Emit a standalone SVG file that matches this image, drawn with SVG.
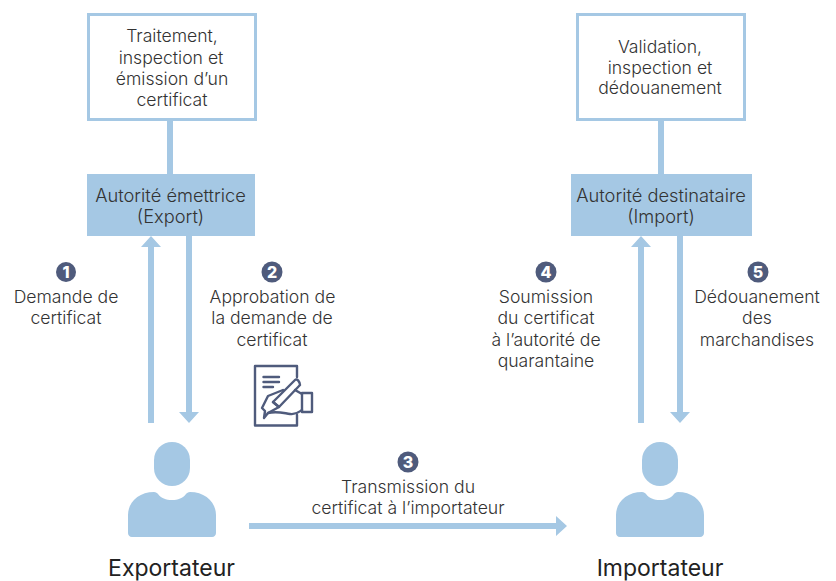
<svg xmlns="http://www.w3.org/2000/svg" width="836" height="581" viewBox="0 0 836 581">
<style>
text{font-family:"Inter","Liberation Sans",sans-serif;font-size:17.600px;font-weight:300;fill:#333;text-anchor:middle}
.box{fill:#fff;stroke:#a5c8e4;stroke-width:3}
.fill{fill:#a5c8e4}
.ln{stroke:#a5c8e4;stroke-width:6;fill:none}
.ah{fill:#a5c8e4}
.badge{fill:#4f5b7c}
.num{font-size:16px;font-weight:800;fill:#fff}
.lab{font-size:18.300px}
.name{font-size:23px;font-weight:400;fill:#222}
.ic{fill:none;stroke:#4f5b7c;stroke-width:2.400;stroke-linejoin:round;stroke-linecap:round}
</style>
<defs>
<g id="person"><path class="fill" d="M-18 -32a18 18 0 0 1 36 0v8a18 18 0 0 1 -36 0z"/><path class="fill" d="M-44 41v-18c0-13 11-23 26-23c2 0 3 1 4 2c3 4 8 6 14 6s11-2 14-6c1-1 2-2 4-2c15 0 26 10 26 23v18c0 2-1.500 4-4 4h-80c-2.500 0-4-2-4-4z"/></g>
</defs>
<g id="connectors">
<path class="ln" d="M170 120V174M661 120V174"/>
<path class="ln" d="M151 423V245M189 236V414M641 423V245M680 236V414M249 526H557"/>
<path class="ah" d="M151 236l10 11h-20zM189 423l-10-11h20zM641 236l10 11h-20zM680 423l-10-11h20zM567 526l-11-10v20z"/>
</g>
<g id="n-traitement"><rect class="box" x="88.500" y="14.500" width="167" height="105"/>
<text x="172" y="42">Traitement,</text><text x="171" y="64">inspection et</text><text x="172" y="85">émission d’un</text><text x="172" y="106">certificat</text></g>
<g id="n-validation"><rect class="box" x="577.500" y="14.500" width="167" height="105"/>
<text x="660" y="53">Validation,</text><text x="660" y="74">inspection et</text><text x="660" y="94">dédouanement</text></g>
<g id="n-emettrice"><rect class="fill" x="87" y="174" width="168" height="62"/>
<text class="lab" x="170.500" y="202">Autorité émettrice</text><text class="lab" x="170.500" y="223">(Export)</text></g>
<g id="n-destinataire"><rect class="fill" x="571" y="174" width="181" height="62"/>
<text class="lab" x="661" y="202">Autorité destinataire</text><text class="lab" x="661" y="223">(Import)</text></g>
<g id="step1"><circle class="badge" cx="66" cy="272" r="10"/><text class="num" x="66" y="278">1</text>
<text x="66" y="303">Demande de</text><text x="66" y="324">certificat</text></g>
<g id="step2"><circle class="badge" cx="272" cy="272" r="10.500"/><text class="num" x="272" y="278">2</text>
<text x="272.500" y="303">Approbation de</text><text x="272" y="324">la demande de</text><text x="272" y="346">certificat</text></g>
<g id="step3"><circle class="badge" cx="408" cy="462" r="10.500"/><text class="num" x="408" y="468">3</text>
<text x="408" y="493">Transmission du</text><text x="408" y="514">certificat à l’importateur</text></g>
<g id="step4"><circle class="badge" cx="546" cy="272" r="10.500"/><text class="num" x="546" y="278">4</text>
<text x="546" y="303">Soumission</text><text x="546" y="324">du certificat</text><text x="546" y="346">à l’autorité de</text><text x="546" y="367">quarantaine</text></g>
<g id="step5"><circle class="badge" cx="758" cy="272" r="10.500"/><text class="num" x="758" y="278">5</text>
<text x="757" y="303">Dédouanement</text><text x="757" y="324">des</text><text x="757" y="346">marchandises</text></g>
<g id="icon-signature" class="ic">
<path d="M297 377V366H255V425.500H297V415"/>
<path d="M263.500 377H279M263.500 382H279M263.500 387H273"/>
<path d="M273 402L295 380C297 378 300 382 300 385L279 407Z"/>
<path d="M273 402L279 407L268 413L264 418L265 411L262 408L268 396L283 390"/>
<path d="M268 413C277 411 283 413 290 414C296 415 299 412 302 410M295 390L302 394"/>
<rect x="302" y="393" width="10" height="19"/>
</g>
<g id="n-exportateur"><use href="#person" x="172" y="492"/><text class="name" x="171.500" y="576">Exportateur</text></g>
<g id="n-importateur"><use href="#person" x="660" y="492"/><text class="name" x="660" y="576">Importateur</text></g>
</svg>
